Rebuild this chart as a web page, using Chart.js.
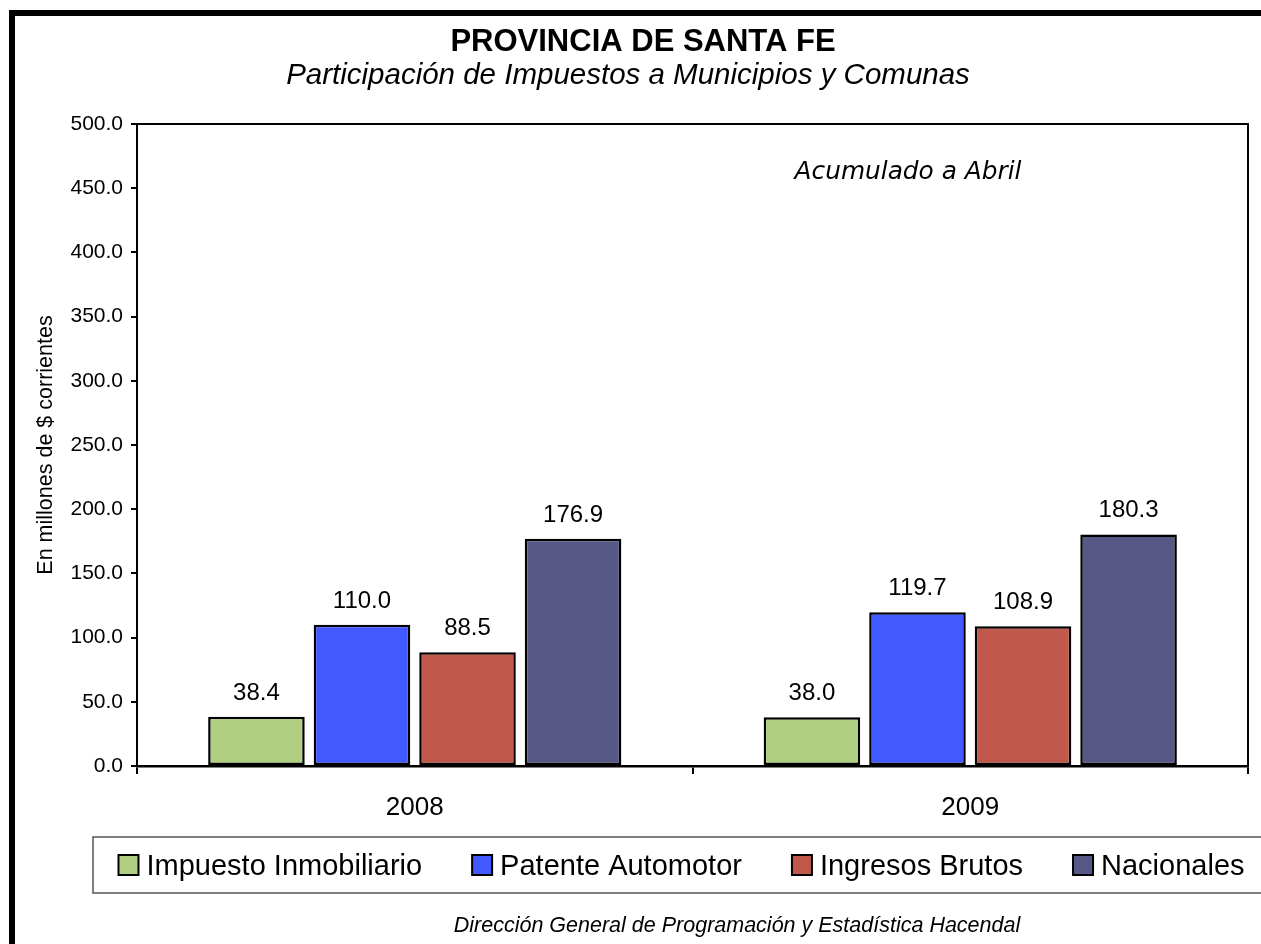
<!DOCTYPE html>
<html><head><meta charset="utf-8">
<script src="https://cdn.jsdelivr.net/npm/chart.js@4"></script>
<style>html,body{margin:0;padding:0;background:#fff}canvas{display:block}</style>
</head><body>
<canvas id="c" width="1261" height="944"></canvas>
<script>
const categories = ['2008', '2009'];
const seriesNames = ['Impuesto Inmobiliario', 'Patente Automotor', 'Ingresos Brutos', 'Nacionales'];
const impuestoInmobiliario = [38.4, 38.0];
const patenteAutomotor = [110.0, 119.7];
const ingresosBrutos = [88.5, 108.9];
const nacionales = [176.9, 180.3];
const yMin = 0, yMax = 500, yStep = 50;
const titleText = 'PROVINCIA DE SANTA FE';
const subtitleText = 'Participación de Impuestos a Municipios y Comunas';
const noteText = 'Acumulado a Abril';
const yAxisTitle = 'En millones de $ corrientes';
const footerText = 'Dirección General de Programación y Estadística Hacendal';

const colors = ['#B0CF80', '#4259FF', '#C0594B', '#575886'];
const FONT = "'Liberation Sans', Arial, sans-serif";
const seriesValues = [impuestoInmobiliario, patenteAutomotor, ingresosBrutos, nacionales];

const extras = {
  id: 'extras',
  beforeDraw(chart) {
    const ctx = chart.ctx;
    ctx.save();
    ctx.fillStyle = '#fff';
    ctx.fillRect(0, 0, chart.width, chart.height);
    ctx.fillStyle = '#000';
    ctx.fillRect(9, 10, chart.width - 9, 6);
    ctx.fillRect(9, 10, 6, chart.height - 10);
    ctx.restore();
  },
  afterDraw(chart) {
    const ctx = chart.ctx;
    const a = chart.chartArea;
    ctx.save();
    // plot area top & right border
    ctx.strokeStyle = '#000';
    ctx.lineWidth = 2;
    ctx.beginPath();
    ctx.moveTo(a.left, a.top);
    ctx.lineTo(a.right, a.top);
    ctx.lineTo(a.right, a.bottom);
    ctx.stroke();

    // value labels
    ctx.fillStyle = '#000';
    ctx.font = '24px ' + FONT;
    ctx.textAlign = 'center';
    ctx.textBaseline = 'alphabetic';
    chart.data.datasets.forEach((ds, i) => {
      const meta = chart.getDatasetMeta(i);
      meta.data.forEach((el, j) => {
        ctx.fillText(ds.data[j].toFixed(1), el.x, el.y - 17);
      });
    });

    // titles
    ctx.font = 'bold 31px ' + FONT;
    ctx.fillText(titleText, 643, 51);
    ctx.font = 'italic 29.5px ' + FONT;
    ctx.fillText(subtitleText, 628, 84);

    // note
    let fs = 24;
    ctx.font = 'italic ' + fs + "px 'Comic Sans MS', 'DejaVu Sans', sans-serif";
    const w = ctx.measureText(noteText).width;
    fs = fs * 227 / w;
    ctx.font = 'italic ' + fs.toFixed(1) + "px 'Comic Sans MS', 'DejaVu Sans', sans-serif";
    ctx.fillText(noteText, 908, 179);

    // legend box
    ctx.strokeStyle = '#555';
    ctx.lineWidth = 1.5;
    ctx.fillStyle = '#fff';
    ctx.fillRect(93, 837, 1177, 56);
    ctx.strokeRect(93, 837, 1177, 56);
    ctx.font = '29px ' + FONT;
    ctx.textAlign = 'left';
    const sq = 20, gapIn = 8, gapOut = 50;
    const widths = chart.data.datasets.map(d => ctx.measureText(d.label).width);
    const total = widths.reduce((s, v) => s + v + sq + gapIn, 0) + gapOut * (widths.length - 1);
    let x = 681.5 - total / 2;
    chart.data.datasets.forEach((d, i) => {
      ctx.fillStyle = d.backgroundColor;
      ctx.fillRect(x, 855, sq, sq);
      ctx.strokeStyle = '#000';
      ctx.lineWidth = 2;
      ctx.strokeRect(x, 855, sq, sq);
      ctx.fillStyle = '#000';
      ctx.fillText(d.label, x + sq + gapIn, 875);
      x += sq + gapIn + widths[i] + gapOut;
    });

    // footer
    ctx.textAlign = 'center';
    ctx.font = 'italic 21.5px ' + FONT;
    ctx.fillText(footerText, 737, 932);
    ctx.restore();
  }
};

new Chart(document.getElementById('c'), {
  type: 'bar',
  data: {
    labels: categories,
    datasets: seriesNames.map((name, i) => ({
      label: name,
      data: seriesValues[i],
      backgroundColor: colors[i],
      borderColor: '#000',
      borderWidth: 2.5,
      borderSkipped: false,
      barPercentage: 0.915,
      categoryPercentage: 0.76
    }))
  },
  options: {
    responsive: false,
    animation: false,
    layout: { padding: { top: 124, right: 13, bottom: 118, left: 0 } },
    plugins: { legend: { display: false }, title: { display: false }, tooltip: { enabled: false } },
    scales: {
      x: {
        offset: true,
        grid: { display: true, drawOnChartArea: false, drawTicks: true, tickLength: 8, color: '#000', lineWidth: 2, offset: true },
        border: { display: true, color: '#000', width: 2.5 },
        ticks: { font: { family: FONT, size: 26 }, color: '#000', padding: 18 },
        afterFit(s) { s.height = 60; }
      },
      y: {
        min: yMin, max: yMax,
        ticks: { stepSize: yStep, callback: v => Number(v).toFixed(1), font: { family: FONT, size: 21 }, color: '#000', padding: 8 },
        grid: { drawOnChartArea: false, drawTicks: true, tickLength: 6, color: '#000', lineWidth: 2 },
        border: { display: true, color: '#000', width: 2 },
        title: { display: true, text: yAxisTitle, font: { family: FONT, size: 21.5, lineHeight: 1.2 }, color: '#000', padding: { top: 33, bottom: 0 } },
        afterFit(s) { s.width = 137; }
      }
    }
  },
  plugins: [extras]
});
</script>
</body></html>
